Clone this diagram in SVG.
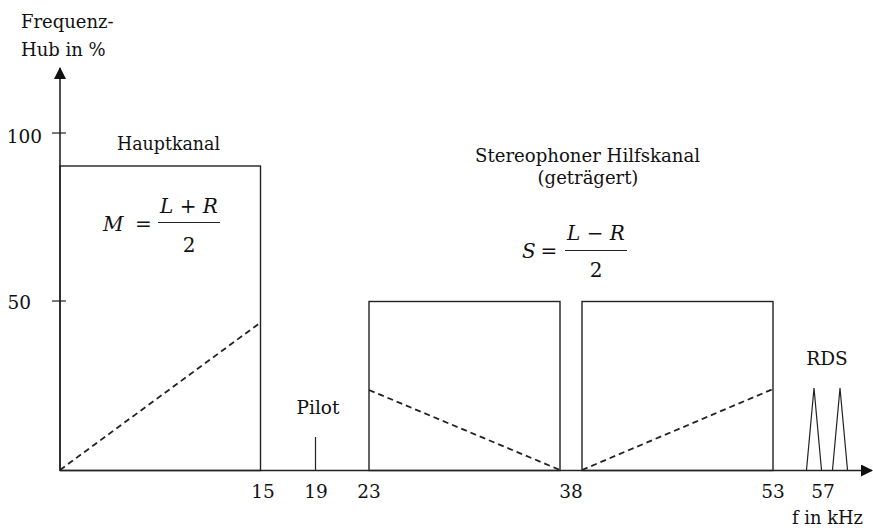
<svg xmlns="http://www.w3.org/2000/svg" width="873" height="530" viewBox="0 0 873 530">
<style>
text{font-family:"DejaVu Serif","Noto Serif",serif;font-size:18.5px;fill:#111}
.m{font-style:italic;font-size:20px}
.f{font-size:20px}
.s{font-size:18px}
.c{text-anchor:middle}
.e{text-anchor:end}
.box{fill:none;stroke:#222;stroke-width:1.4}
.dash{fill:none;stroke:#222;stroke-width:1.8;stroke-dasharray:6 4}
.ax{stroke:#222;stroke-width:1.6;fill:none}
.ln{stroke:#222;stroke-width:1.2;fill:none}
</style>
<defs>
<marker id="ah" markerWidth="12" markerHeight="12" refX="11" refY="6" orient="auto" markerUnits="userSpaceOnUse">
<path d="M0,0 L12,6 L0,12 Z" fill="#111"/>
</marker>
</defs>
<g id="axes">
<line class="ax" x1="60" y1="470.5" x2="60" y2="68" marker-end="url(#ah)"/>
<line class="ax" x1="60" y1="470.5" x2="872" y2="470.5" marker-end="url(#ah)"/>
<line class="ln" x1="52" y1="133" x2="66" y2="133"/>
<line class="ln" x1="52" y1="301" x2="66" y2="301"/>
<text x="21" y="28" class="s">Frequenz-</text>
<text x="21" y="56" class="s">Hub in %</text>
<text x="42" y="143" class="e">100</text>
<text x="31" y="309" class="e">50</text>
<text x="263" y="498" class="c">15</text>
<text x="316" y="498" class="c">19</text>
<text x="369" y="498" class="c">23</text>
<text x="571" y="498" class="c">38</text>
<text x="773" y="498" class="c">53</text>
<text x="823" y="498" class="c">57</text>
<text x="792" y="524" textLength="71" lengthAdjust="spacingAndGlyphs">f in kHz</text>
</g>
<g id="hauptkanal">
<rect class="box" x="60" y="166" width="200.5" height="304.5"/>
<line class="dash" x1="60" y1="470" x2="260.5" y2="322.5"/>
<text x="117" y="150" textLength="103" lengthAdjust="spacingAndGlyphs">Hauptkanal</text>
<text x="103" y="231" class="m">M</text>
<text x="143.5" y="231" class="c f">=</text>
<line class="ln" x1="158" y1="222.5" x2="220" y2="222.5"/>
<text x="189" y="213" class="m c">L<tspan font-style="normal"> + </tspan>R</text>
<text x="189" y="252" class="c f">2</text>
</g>
<g id="pilot">
<line class="ln" x1="315.5" y1="437" x2="315.5" y2="470"/>
<text x="318" y="414" class="c">Pilot</text>
</g>
<g id="hilfskanal">
<text x="475" y="162" textLength="225" lengthAdjust="spacingAndGlyphs">Stereophoner Hilfskanal</text>
<text x="588" y="184" class="c s">(geträgert)</text>
<text x="522" y="258" class="m">S</text>
<text x="549" y="258" class="c f">=</text>
<line class="ln" x1="565" y1="250.5" x2="627" y2="250.5"/>
<text x="596" y="240" class="m c">L<tspan font-style="normal"> − </tspan>R</text>
<text x="596" y="277" class="c f">2</text>
<rect class="box" x="369" y="301.5" width="191" height="169"/>
<line class="dash" x1="369" y1="390" x2="560" y2="470"/>
<rect class="box" x="582" y="301.5" width="191" height="169"/>
<line class="dash" x1="582" y1="470" x2="773" y2="389"/>
</g>
<g id="rds">
<path class="ln" d="M806.5,470 L814,388 L821.5,470"/>
<path class="ln" d="M832.5,470 L840,388 L847.5,470"/>
<text x="827" y="365" class="c">RDS</text>
</g>
</svg>
